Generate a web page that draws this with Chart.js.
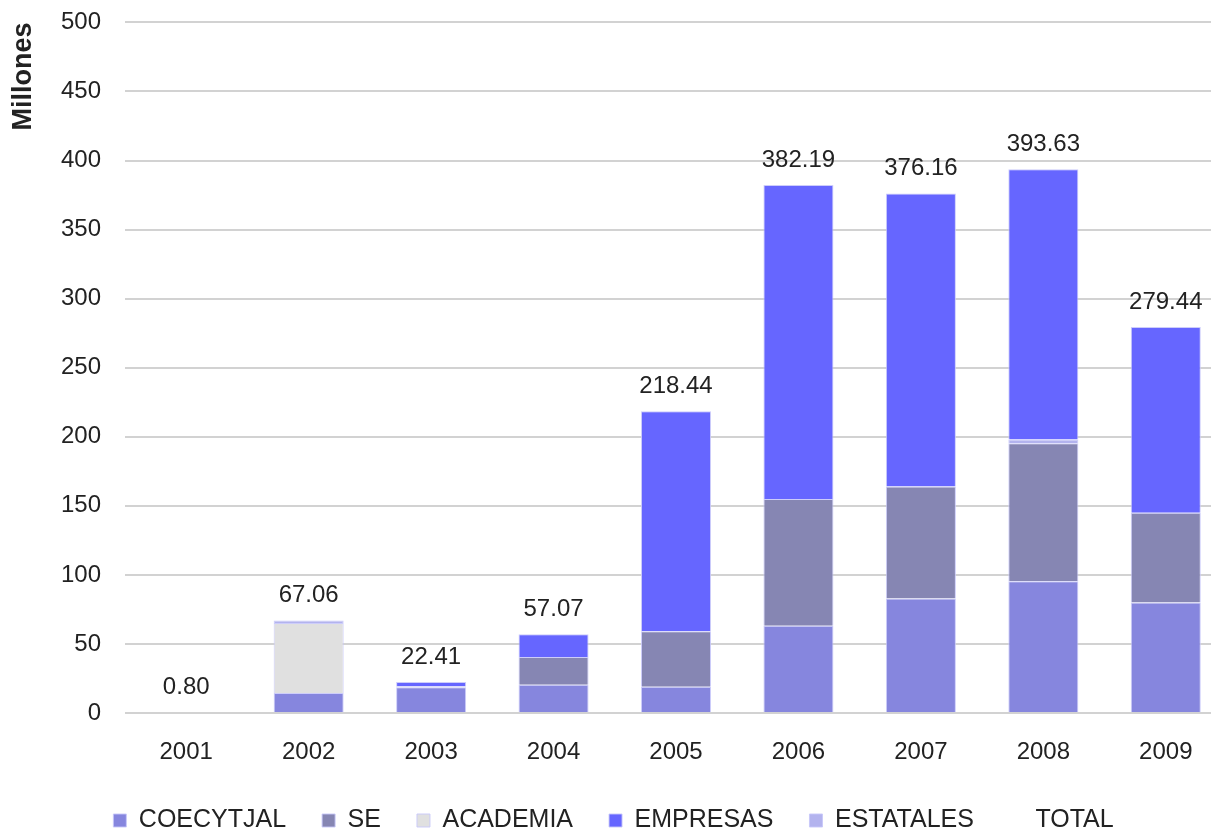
<!DOCTYPE html>
<html lang="es">

<head>
    <meta charset="utf-8">
    <title>Millones por año</title>
    <script src="https://cdn.jsdelivr.net/npm/chart.js"></script>
    <style>
        html, body { margin: 0; padding: 0; background: #fff; overflow: hidden; }
        #chart { margin-top: -16px; }
    </style>
</head>

<body>
    <canvas id="chart" width="1240" height="850" style="width:1240px;height:850px"></canvas>

    <script>
        // years on the x axis
        const years = ['2001', '2002', '2003', '2004', '2005', '2006', '2007', '2008', '2009'];

        // stacked segments (millones)
        const coecytjal = [0.80, 14.5, 18.6, 20.5, 19.0, 63.1, 82.9, 95.4, 80.0];
        const se = [null, null, null, 20.0, 40.2, 91.9, 81.1, 99.9, 65.0];
        const academia = [null, 50.7, null, null, null, null, null, null, null];
        const empresas = [null, null, 3.0, 16.57, 159.24, 227.19, 212.16, 195.63, 134.44];
        const estatales = [null, 1.86, 0.81, null, null, null, null, 2.7, null];

        // totals printed over each bar
        const totals = [0.80, 67.06, 22.41, 57.07, 218.44, 382.19, 376.16, 393.63, 279.44];

        const textColor = '#222';
        const fontFamily = '"Liberation Sans", Arial, sans-serif';

        function barSet(label, values, color, order) {
            return {
                label: label,
                data: values,
                backgroundColor: color,
                borderColor: 'rgba(200, 200, 250, 0.9)',
                borderWidth: 1,
                stack: 'a',
                order: order,
                barPercentage: 0.572,
                categoryPercentage: 1
            };
        }

        // draws the totals above the bars
        const totalLabels = {
            id: 'totalLabels',
            afterDatasetsDraw(chart) {
                const ctx = chart.ctx;
                const yScale = chart.scales.y;
                const meta = chart.getDatasetMeta(5);
                ctx.save();
                ctx.font = '24px ' + fontFamily;
                ctx.fillStyle = textColor;
                ctx.textAlign = 'center';
                ctx.textBaseline = 'middle';
                meta.data.forEach((pt, i) => {
                    ctx.fillText(totals[i].toFixed(2), pt.x, yScale.getPixelForValue(totals[i]) - 25);
                });
                ctx.restore();
            }
        };

        const data = {
            labels: years,
            datasets: [
                barSet('COECYTJAL', coecytjal, '#8686de', 1),
                barSet('SE', se, '#8686b3', 2),
                barSet('ACADEMIA', academia, '#e0e0e0', 3),
                barSet('EMPRESAS', empresas, '#6666ff', 5),
                barSet('ESTATALES', estatales, '#b3b3ee', 4),
                {
                    type: 'line',
                    label: 'TOTAL',
                    data: totals,
                    stack: 'total',
                    order: 6,
                    showLine: false,
                    pointRadius: 0,
                    backgroundColor: 'rgba(0,0,0,0)',
                    borderColor: 'rgba(0,0,0,0)'
                }
            ]
        };

        const options = {
            responsive: false,
            devicePixelRatio: 1,
            animation: false,
            layout: { padding: { top: 5, right: 13, left: 0, bottom: 0 } },
            plugins: {
                tooltip: { enabled: false },
                legend: {
                    position: 'bottom',
                    maxHeight: 62,
                    labels: {
                        color: textColor,
                        font: { family: fontFamily, size: 25 },
                        boxWidth: 13,
                        boxHeight: 13,
                        padding: 36,
                        sort: (a, b) => a.datasetIndex - b.datasetIndex
                    }
                }
            },
            scales: {
                x: {
                    stacked: true,
                    grid: { display: false },
                    border: { display: false },
                    ticks: {
                        color: textColor,
                        padding: 17,
                        font: { family: fontFamily, size: 24 }
                    },
                    afterFit: s => { s.height = 59; }
                },
                y: {
                    stacked: true,
                    min: 0,
                    max: 500,
                    grid: { color: '#d2d2d2', lineWidth: 2, drawTicks: false },
                    border: { display: false },
                    ticks: {
                        stepSize: 50,
                        color: textColor,
                        padding: 24,
                        font: { family: fontFamily, size: 24 }
                    },
                    title: {
                        display: true,
                        text: 'Millones',
                        align: 'end',
                        color: textColor,
                        padding: { top: 7, bottom: 0 },
                        font: { family: fontFamily, size: 27, weight: 'bold' }
                    },
                    afterFit: s => { s.width = 125; }
                }
            }
        };

        new Chart(document.getElementById('chart').getContext('2d'), {
            type: 'bar', data: data, options: options, plugins: [totalLabels]
        });
    </script>
</body>

</html>
